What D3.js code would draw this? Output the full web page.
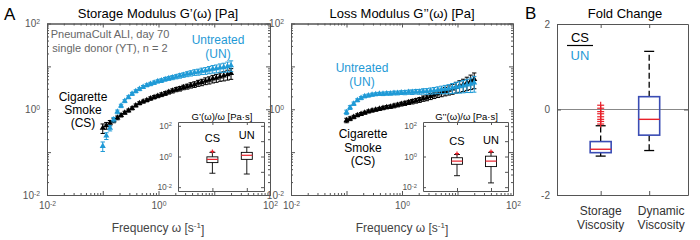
<!DOCTYPE html>
<html lang="en">
<head>
<meta charset="UTF-8">
<title>Storage and loss modulus</title>
<script src="https://cdn.jsdelivr.net/npm/d3@7"></script>
<style>
  body { margin: 0; background: #fff; }
  text { font-family: "Liberation Sans", Arial, sans-serif; }
</style>
</head>
<body>
<div id="chart"></div>
<script>
// ---- data ----
const freq = [0.100, 0.116, 0.135, 0.157, 0.183, 0.213, 0.248, 0.289, 0.336, 0.391, 0.455, 0.530,
  0.617, 0.717, 0.834, 0.970, 1.13, 1.32, 1.53, 1.78, 2.07, 2.41, 2.80, 3.26, 3.79, 4.42, 5.14,
  5.97, 6.95, 8.09, 9.41, 10.9, 12.7, 14.8, 17.3, 20.0];

const storageUN = [0.138, 0.240, 0.363, 0.575, 0.871, 1.20, 1.55, 1.91, 2.29, 2.63, 2.95, 3.31,
  3.63, 3.89, 4.17, 4.47, 4.68, 5.01, 5.25, 5.50, 5.75, 6.03, 6.31, 6.61, 6.92, 7.24, 7.41,
  7.76, 7.94, 8.32, 8.71, 8.91, 9.33, 9.55, 10.0, 10.5];
const storageCS = [0.363, 0.417, 0.479, 0.550, 0.631, 0.724, 0.832, 0.933, 1.05, 1.23, 1.38, 1.51,
  1.62, 1.78, 1.91, 2.04, 2.19, 2.34, 2.51, 2.69, 2.88, 3.02, 3.24, 3.39, 3.63, 3.80, 4.07,
  4.27, 4.57, 4.79, 5.13, 5.37, 5.75, 6.03, 6.46, 6.92];
const storageRelErr = [0.25, 0.18, 0.14, 0.12, 0.10, 0.09, 0.08, 0.08, 0.08, 0.08, 0.08, 0.08,
  0.08, 0.09, 0.09, 0.09, 0.10, 0.10, 0.10, 0.11, 0.11, 0.12, 0.12, 0.13, 0.14, 0.15, 0.16,
  0.17, 0.18, 0.19, 0.20, 0.21, 0.22, 0.24, 0.26, 0.28];

const lossUN = [0.851, 1.10, 1.35, 1.62, 1.82, 2.00, 2.09, 2.19, 2.24, 2.29, 2.29, 2.34,
  2.34, 2.40, 2.40, 2.45, 2.45, 2.51, 2.51, 2.57, 2.57, 2.63, 2.63, 2.69, 2.75, 2.82, 2.88,
  2.95, 3.02, 3.16, 3.31, 3.39, 3.55, 3.72, 3.89, 4.17];
const lossCS = [0.550, 0.603, 0.661, 0.724, 0.776, 0.832, 0.891, 0.933, 0.977, 1.02, 1.07, 1.12,
  1.15, 1.20, 1.26, 1.32, 1.38, 1.45, 1.51, 1.58, 1.66, 1.78, 1.86, 2.00, 2.14, 2.29, 2.45,
  2.63, 2.82, 3.02, 3.31, 3.55, 3.80, 4.17, 4.57, 5.01];
const lossRelErr = [0.12, 0.10, 0.09, 0.08, 0.08, 0.08, 0.08, 0.08, 0.08, 0.08, 0.09, 0.09,
  0.09, 0.10, 0.10, 0.10, 0.11, 0.11, 0.12, 0.12, 0.13, 0.14, 0.15, 0.16, 0.17, 0.18, 0.20,
  0.22, 0.24, 0.26, 0.28, 0.30, 0.32, 0.34, 0.37, 0.40];

// inset box plots: [lower whisker, q1, median, q3, upper whisker]
const insetCats = ["CS", "UN"];
const storageViscCS = [0.081, 0.40, 0.65, 0.95, 1.86];
const storageViscUN = [0.072, 0.65, 1.20, 1.86, 4.07];
const storageViscOut = [[2.14], []];
const lossViscCS = [0.056, 0.31, 0.50, 0.83, 1.35];
const lossViscUN = [0.019, 0.22, 0.50, 1.05, 1.86];
const lossViscOut = [[1.55], [2.14]];

// panel B fold change
const foldCats = [["Storage", "Viscosity"], ["Dynamic", "Viscosity"]];
const foldStorage = [-1.09, -1.01, -0.93, -0.75, -0.38];
const foldDynamic = [-0.96, -0.60, -0.23, 0.30, 1.36];
const foldStorageOut = [0.10, 0.03, -0.05, -0.10, -0.17, -0.23, -0.28, -0.34];
const foldTicks = [-2, 0, 2];

const logMajors = [1e-2, 1e-1, 1, 1e1, 1e2];
const logMinors = [];
[1e-2, 1e-1, 1, 1e1].forEach(d => { for (let k = 2; k < 10; k++) logMinors.push(d * k); });

// ---- setup ----
const blue = "#1f9ad6", axisCol = "#555", red = "#e8202a", boxBlue = "#3a4cb4";

const svg = d3.select("#chart").append("svg")
  .attr("width", 700).attr("height", 240);

const yG = d3.scaleLog().domain([1e-2, 1e2]).range([195, 23.5]);
const xL = d3.scaleLog().domain([1e-2, 1e2]).range([47, 270]);
const xR = d3.scaleLog().domain([1e-2, 1e2]).range([291, 513]);

function supLabels(sel, size) {
  sel.selectAll(".tick text").each(function (d) {
    const e = Math.round(Math.log10(d));
    const t = d3.select(this);
    t.text("");
    if (e % 2 !== 0) return;
    t.append("tspan").text("10");
    t.append("tspan").attr("dy", "-0.45em").attr("font-size", size * 0.68).text(e);
  });
}

function styleAxis(g, size) {
  g.selectAll("path.domain").attr("stroke", axisCol);
  g.selectAll(".tick line").attr("stroke", axisCol);
  g.selectAll(".tick text").attr("fill", axisCol).attr("font-size", size)
    .attr("font-family", "'Liberation Sans', Arial, sans-serif");
}

// log-log frame with inward ticks on all four sides
function logFrame(x, y, fs) {
  const [x0, x1] = x.range(), [y0, y1] = y.range();
  const none = () => "";
  const sides = [
    [d3.axisBottom, `translate(0,${y0})`, x, true],
    [d3.axisTop, `translate(0,${y1})`, x, false],
    [d3.axisLeft, `translate(${x0},0)`, y, true],
    [d3.axisRight, `translate(${x1},0)`, y, false]
  ];
  sides.forEach(([make, tr, sc, lab]) => {
    const gMin = svg.append("g").attr("transform", tr)
      .call(make(sc).tickValues(logMinors).tickSizeInner(-2).tickSizeOuter(0).tickFormat(none));
    styleAxis(gMin, fs);
    const gMaj = svg.append("g").attr("transform", tr)
      .call(make(sc).tickValues(logMajors).tickSizeInner(-4).tickSizeOuter(0).tickPadding(7)
        .tickFormat(lab ? d3.format("") : none));
    styleAxis(gMaj, fs);
    if (lab) supLabels(gMaj, fs);
  });
}

function errorSeries(x, y, vals, rel, color) {
  const g = svg.append("g");
  const sym = d3.symbol().type(d3.symbolTriangle).size(16);
  freq.forEach((f, i) => {
    const cx = x(f), lo = y(vals[i] * (1 - rel[i])), hi = y(vals[i] * (1 + rel[i]));
    g.append("line").attr("x1", cx).attr("x2", cx).attr("y1", lo).attr("y2", hi)
      .attr("stroke", color).attr("stroke-width", 1);
    [lo, hi].forEach(yy => g.append("line").attr("x1", cx - 2.2).attr("x2", cx + 2.2)
      .attr("y1", yy).attr("y2", yy).attr("stroke", color).attr("stroke-width", 1));
    g.append("path").attr("d", sym).attr("transform", `translate(${cx},${y(vals[i])})`)
      .attr("fill", color);
  });
}

function boxPlot(xc, y, st, outs, o) {
  const [lo, q1, med, q3, hi] = st;
  const g = svg.append("g");
  g.append("line").attr("x1", xc).attr("x2", xc).attr("y1", y(q3)).attr("y2", y(hi))
    .attr("stroke", "#000").attr("stroke-dasharray", o.dash).attr("stroke-width", o.ws);
  g.append("line").attr("x1", xc).attr("x2", xc).attr("y1", y(q1)).attr("y2", y(lo))
    .attr("stroke", "#000").attr("stroke-dasharray", o.dash).attr("stroke-width", o.ws);
  [lo, hi].forEach(v => g.append("line").attr("x1", xc - o.cap / 2).attr("x2", xc + o.cap / 2)
    .attr("y1", y(v)).attr("y2", y(v)).attr("stroke", "#000").attr("stroke-width", o.ws));
  g.append("rect").attr("x", xc - o.w / 2).attr("y", y(q3)).attr("width", o.w)
    .attr("height", y(q1) - y(q3)).attr("fill", "none").attr("stroke", o.box).attr("stroke-width", o.bs);
  g.append("line").attr("x1", xc - o.w / 2).attr("x2", xc + o.w / 2).attr("y1", y(med)).attr("y2", y(med))
    .attr("stroke", red).attr("stroke-width", o.ms);
  outs.forEach(v => {
    g.append("line").attr("x1", xc - o.plus).attr("x2", xc + o.plus).attr("y1", y(v)).attr("y2", y(v))
      .attr("stroke", red).attr("stroke-width", 1.2);
    g.append("line").attr("x1", xc).attr("x2", xc).attr("y1", y(v) - o.plus).attr("y2", y(v) + o.plus)
      .attr("stroke", red).attr("stroke-width", 1.2);
  });
}

function label(x, y, lines, opt) {
  const t = svg.append("text").attr("x", x).attr("y", y).attr("text-anchor", opt.anchor || "middle")
    .attr("font-size", opt.size).attr("fill", opt.color || "#000");
  lines.forEach((s, i) => t.append("tspan").attr("x", x).attr("dy", i ? opt.lh : 0).text(s));
  return t;
}

// ---- panel A, two log-log plots ----
logFrame(xL, yG, 10);
logFrame(xR, yG, 10);

errorSeries(xL, yG, storageCS, storageRelErr, "#000");
errorSeries(xL, yG, storageUN, storageRelErr, blue);
errorSeries(xR, yG, lossCS, lossRelErr, "#000");
errorSeries(xR, yG, lossUN, lossRelErr, blue);

// insets
function inset(x0, x1, title, stCS, stUN, outs) {
  const xi = d3.scaleLinear().domain([0, 2.5]).range([x0, x1]);
  const yi = d3.scaleLog().domain([10 ** -2.25, 10 ** 2.25]).range([191, 122]);
  svg.append("rect").attr("x", x0).attr("y", 122).attr("width", x1 - x0).attr("height", 69)
    .attr("fill", "#fff");
  const none = () => "";
  const gl = svg.append("g").attr("transform", `translate(${x0},0)`)
    .call(d3.axisLeft(yi).tickValues([1e-2, 1, 1e2]).tickSizeInner(-3).tickSizeOuter(0).tickPadding(6));
  styleAxis(gl, 8.5); supLabels(gl, 8.5);
  const gr = svg.append("g").attr("transform", `translate(${x1},0)`)
    .call(d3.axisRight(yi).tickValues(logMajors).tickSizeInner(-3).tickSizeOuter(0).tickFormat(none));
  styleAxis(gr, 8);
  const gb = svg.append("g").attr("transform", "translate(0,191)")
    .call(d3.axisBottom(xi).tickValues([1, 2]).tickSizeInner(-3).tickSizeOuter(0).tickFormat(none));
  styleAxis(gb, 8);
  const gt = svg.append("g").attr("transform", "translate(0,122)")
    .call(d3.axisTop(xi).tickValues([1, 2]).tickSizeInner(-3).tickSizeOuter(0).tickFormat(none));
  styleAxis(gt, 8);
  label((x0 + x1) / 2 + 1, 120, [title], { size: 9.5 });
  const o = { w: 11, cap: 6, box: "#000", bs: 0.9, ms: 1.2, ws: 0.9, dash: null, plus: 2 };
  boxPlot(xi(1), yi, stCS, outs[0], o);
  boxPlot(xi(2), yi, stUN, outs[1], o);
  label(xi(1), yi(stCS[4]) - 10, [insetCats[0]], { size: 11 });
  label(xi(2), yi(stUN[4]) - 8, [insetCats[1]], { size: 11 });
}
inset(178, 264, "G\u2019(\u03c9)/\u03c9 [Pa\u00b7s]", storageViscCS, storageViscUN, storageViscOut);
inset(423, 508, "G\u2019\u2019(\u03c9)/\u03c9 [Pa\u00b7s]", lossViscCS, lossViscUN, lossViscOut);

// titles and annotations
label(4, 19.5, ["A"], { anchor: "start", size: 17 });
label(158, 18, ["Storage Modulus G\u2019(\u03c9) [Pa]"], { size: 13 });
label(402, 18, ["Loss Modulus G\u2019\u2019(\u03c9) [Pa]"], { size: 13 });
[158, 402].forEach(cx => {
  label(cx, 232, ["Frequency \u03c9 [s"], { size: 12, color: "#444" })
    .call(t => { t.append("tspan").attr("dy", "-0.45em").attr("font-size", 8).text("-1");
                 t.append("tspan").attr("dy", "0.45em").text("]"); });
});

label(110, 38, ["PneumaCult ALI, day 70", "single donor (YT), n = 2"], { size: 11, color: "#666", lh: 14 });
label(218, 44, ["Untreated", "(UN)"], { size: 12, color: blue, lh: 13.5 });
label(83, 101, ["Cigarette", "Smoke", "(CS)"], { size: 12, lh: 13 });
label(362, 72, ["Untreated", "(UN)"], { size: 12, color: blue, lh: 14 });
label(363, 138, ["Cigarette", "Smoke", "(CS)"], { size: 12, lh: 13.5 });

// ---- panel B ----
const xB = d3.scaleLinear().domain([0.1, 2.8]).range([557, 688]);
const yB = d3.scaleLinear().domain([-2, 2]).range([195, 24]);

svg.append("line").attr("x1", 557).attr("x2", 688).attr("y1", yB(0)).attr("y2", yB(0))
  .attr("stroke", "#888").attr("stroke-width", 1.2);

const bl = svg.append("g").attr("transform", "translate(557,0)")
  .call(d3.axisLeft(yB).tickValues(foldTicks).tickSizeInner(-4).tickSizeOuter(0).tickPadding(7)
    .tickFormat(d3.format("d")));
styleAxis(bl, 10);
bl.selectAll(".tick text").text(d => d < 0 ? "-" + Math.abs(d) : d);
const br = svg.append("g").attr("transform", "translate(688,0)")
  .call(d3.axisRight(yB).tickValues(foldTicks).tickSizeInner(-4).tickSizeOuter(0).tickFormat(() => ""));
styleAxis(br, 10);
const bb = svg.append("g").attr("transform", "translate(0,195)")
  .call(d3.axisBottom(xB).tickValues([1, 2]).tickSizeInner(-4).tickSizeOuter(0).tickFormat(() => ""));
styleAxis(bb, 10);
const bt = svg.append("g").attr("transform", "translate(0,24)")
  .call(d3.axisTop(xB).tickValues([1, 2]).tickSizeInner(-4).tickSizeOuter(0).tickFormat(() => ""));
styleAxis(bt, 10);

const oB = { w: 21, cap: 10, box: boxBlue, bs: 1.6, ms: 1.4, ws: 1.3, dash: "6,3", plus: 3.5 };
boxPlot(xB(1), yB, foldStorage, foldStorageOut, oB);
boxPlot(xB(2), yB, foldDynamic, [], oB);

label(525, 19, ["B"], { anchor: "start", size: 17 });
label(625, 18, ["Fold Change"], { size: 13 });
label(xB(1), 215, foldCats[0], { size: 12, color: "#333", lh: 14 });
label(xB(2) + 12, 215, foldCats[1], { size: 12, color: "#333", lh: 14 });

label(580, 42, ["CS"], { size: 13 });
svg.append("line").attr("x1", 567).attr("x2", 593).attr("y1", 45.5).attr("y2", 45.5)
  .attr("stroke", "#000").attr("stroke-width", 1.2);
label(580, 60, ["UN"], { size: 13, color: blue });
</script>
</body>
</html>
